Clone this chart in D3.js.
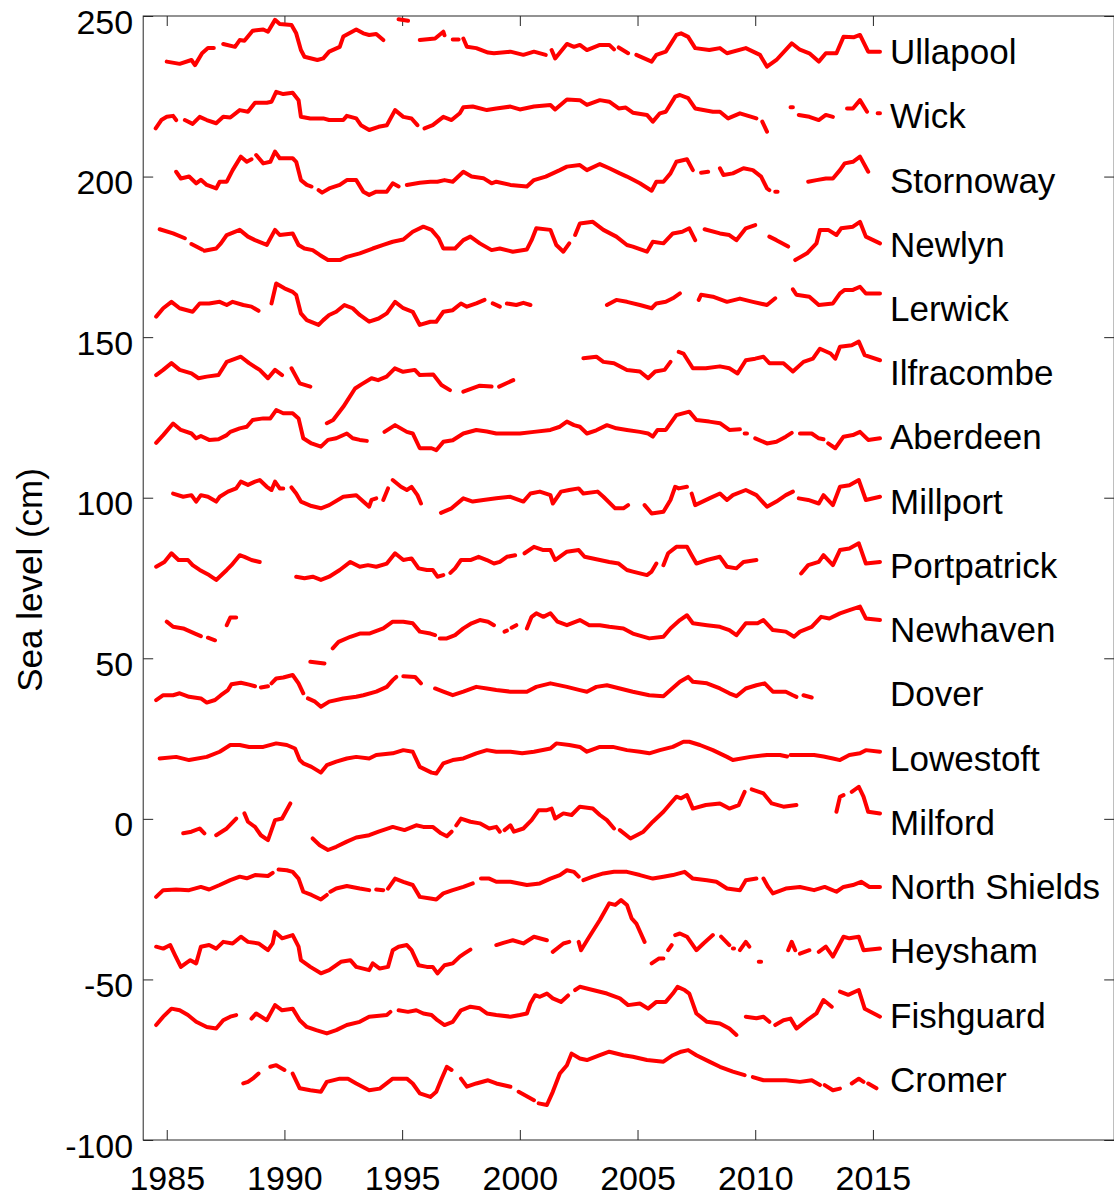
<!DOCTYPE html>
<html>
<head>
<meta charset="utf-8">
<script src="https://cdn.jsdelivr.net/npm/d3@7"></script>
<style>
  body { margin: 0; background: #fff; }
  svg text { font-family: "Liberation Sans", Arial, Helvetica, sans-serif; fill: #000; }
</style>
</head>
<body>
<div id="chart"></div>
<script>
// Station names, top to bottom, and the vertical offset each one is drawn at (cm)
const stations = ["Ullapool", "Wick", "Stornoway", "Newlyn", "Lerwick", "Ilfracombe", "Aberdeen",
  "Millport", "Portpatrick", "Newhaven", "Dover", "Lowestoft", "Milford", "North Shields",
  "Heysham", "Fishguard", "Cromer"];
const offsets = [240, 220, 200, 180, 160, 140, 120, 100, 80, 60, 40, 20, 0, -20, -40, -60, -80];

const xTicks = [1985, 1990, 1995, 2000, 2005, 2010, 2015];
const yTicks = [-100, -50, 0, 50, 100, 150, 200, 250];

// [year, anomaly in cm]; null marks a gap in the record
const ullapool = [[1985,-4.2],[1985.55,-4.9],[1986.05,-3.7],[1986.2,-5.3],[1986.5,-1.6],[1986.75,0],[1987,0],null,[1987.4,1.3],[1987.9,0.4],[1988.1,2.5],[1988.3,2.3],[1988.65,5.4],[1989.1,5.8],[1989.3,5.1],[1989.6,8.8],[1989.8,7.5],[1990.3,7.2],[1990.5,4.6],[1990.7,-0.6],[1990.85,-2.7],[1991.4,-3.7],[1991.65,-3.2],[1991.9,-1.1],[1992.35,0.4],[1992.5,3.6],[1993.05,5.8],[1993.35,4.6],[1993.6,4.1],[1993.9,4.4],[1994.2,2.5],null,[1994.85,9],[1995.25,8.5],null,[1995.75,2.5],[1996.4,3],[1996.75,5.1],[1996.8,4],null,[1997.15,2.7],[1997.4,2.7],null,[1997.6,3],[1997.75,0.4],[1998.15,0],[1998.65,-1.4],[1998.9,-1.6],[1999.6,-1.1],[2000.15,-2.1],[2000.6,-1.1],[2001.1,-2.1],null,[2001.35,-0.6],[2001.5,-3.2],[2002,1.3],[2002.3,0.4],[2002.55,1],[2002.85,-0.6],[2003.4,1],[2003.8,1],[2004,-0.4],null,[2004.2,0.2],[2004.6,-1.6],null,[2004.95,-2.1],[2005.6,-4.2],[2005.8,-2.1],[2006.2,-1.1],[2006.65,4.1],[2006.85,4.6],[2007.15,3.5],[2007.45,0],[2008.05,-0.6],[2008.5,0],[2008.8,-1.6],[2009.6,0],[2010.2,-2.1],[2010.5,-5.8],[2010.9,-3.7],[2011.55,1.5],[2011.9,-0.5],[2012.3,-1.6],[2012.7,-4.2],[2013,-1.6],[2013.45,-1.6],[2013.75,3.5],[2014.2,3.4],[2014.45,4.1],[2014.8,-1.1],[2015.3,-1.1]];

const wick = [[1984.53,-5],[1984.77,-2.4],[1985,-1.4],[1985.27,-1.1],[1985.4,-2.4],null,[1985.77,-2.4],[1986.1,-3.6],[1986.4,-1.4],[1986.7,-2.4],[1987.1,-3.4],[1987.4,-1.4],[1987.7,-1.6],[1988.1,0.7],[1988.45,0.2],[1988.75,3],[1989.25,3],[1989.45,3.3],[1989.65,6.4],[1989.95,5.7],[1990.35,6.1],[1990.6,3.8],[1990.7,-1.4],[1991.1,-1.9],[1991.65,-1.9],[1991.9,-2.4],[1992.5,-2.4],[1992.65,-1.1],[1993.05,-1.9],[1993.25,-4],[1993.6,-5.5],[1994,-4.5],[1994.35,-4],[1994.7,0.7],[1995.05,-1.4],[1995.4,-1.9],[1995.65,-4],null,[1995.95,-5],[1996.3,-4],[1996.75,-1.4],[1997.1,-2.4],[1997.45,-0.3],[1997.6,1.6],[1998,1.8],[1998.6,0.7],[1999,1.2],[1999.6,1.8],[2000,0.9],[2000.6,1.8],[2001.3,2.3],[2001.5,0.9],[2002,4],[2002.55,3.8],[2002.85,2.3],[2003.4,3.8],[2003.8,3.3],[2004.2,1.2],[2004.5,1.5],[2004.8,-0.1],[2005.4,-0.8],[2005.65,-2.9],[2005.95,-0.3],[2006.2,0.2],[2006.6,4.9],[2006.8,5.4],[2007.15,4.4],[2007.45,1.2],[2008.2,0.2],[2008.5,0.2],[2008.85,-1.9],[2009.35,-0.3],[2010.05,-1.9],null,[2010.3,-2.9],[2010.5,-6],null,[2011.5,1.6],[2011.6,1.6],null,[2011.85,-0.8],[2012.3,-1.4],[2012.7,-2.4],[2013,-0.8],[2013.3,-1.4],null,[2013.9,1.2],[2014.15,1.2],[2014.45,3.8],[2014.75,0.2],null,[2015.2,-0.3],[2015.3,-0.3]];

const stornoway = [[1985.4,1.5],[1985.6,-0.6],[1985.95,0],[1986.25,-2.1],[1986.45,-1],[1986.7,-2.6],[1987.1,-3.7],[1987.25,-1.6],[1987.55,-1.6],[1987.8,2],[1988.15,6.2],[1988.4,4.6],[1988.6,5.4],null,[1988.8,6.7],[1989.1,4.1],[1989.4,4.6],[1989.6,7.8],[1989.8,5.7],[1990.35,5.7],[1990.5,4.6],[1990.7,-1.1],[1990.95,-2.6],[1991.15,-3.1],null,[1991.45,-4.2],[1991.6,-5],[1991.9,-3.7],[1992.35,-2.6],[1992.65,-1.1],[1993.05,-1.1],[1993.35,-4.7],[1993.6,-5.7],[1993.9,-4.7],[1994.35,-4.7],[1994.6,-2.1],[1994.85,-3.1],null,[1995.2,-2.6],[1995.75,-1.9],[1996.2,-1.6],[1996.5,-1.6],[1996.8,-1.1],[1997.15,-1.6],[1997.6,1.5],[1997.95,0],[1998.45,-0.5],[1998.8,-2.1],[1999,-1.6],[1999.6,-2.6],[2000.3,-3.1],[2000.6,-1.1],[2001.1,0],[2001.4,1],[2001.7,2],[2002,3.1],[2002.55,3.6],[2002.85,2],[2003.4,3.9],[2003.8,2.6],[2004.25,1],[2004.55,0],[2005.1,-2.1],[2005.6,-4.4],[2005.8,-1.6],[2006.1,-1.6],[2006.4,1],[2006.65,4.6],[2007.1,5.4],[2007.35,2],null,[2007.7,1.2],[2008,1.5],null,[2008.5,2.6],[2008.65,0.5],[2009.05,1],[2009.5,2.6],[2009.9,2],[2010.25,0],[2010.5,-3.7],[2010.6,-4.2],null,[2010.85,-4.7],[2010.95,-4.7],null,[2012.25,-1.6],[2012.6,-1.1],[2013,-0.6],[2013.3,-0.6],[2013.6,2],[2013.8,4.1],[2014.15,4.6],[2014.45,6.2],[2014.8,1.5]];

const newlyn = [[1984.7,3.6],[1985.27,2.3],[1985.77,0.8],null,[1986.05,-1],[1986.5,-2.7],null,[1986.6,-3.1],[1987.1,-2.4],[1987.3,-0.8],[1987.55,1.8],[1988.1,3.4],[1988.45,1.3],[1988.75,0.2],[1989.25,-1.3],[1989.6,3.4],[1989.8,1.8],[1990.35,2.3],[1990.6,-1.3],[1990.85,-2.4],[1991.2,-2.9],[1991.5,-4.4],[1991.85,-6],[1992.35,-6],[1992.65,-5],[1993.2,-3.9],[1993.75,-2.4],[1994.2,-1.3],[1994.6,-0.3],[1995.05,0.4],[1995.45,2.8],[1995.9,4.4],[1996.25,3.4],[1996.55,0.8],[1996.75,-2.4],[1997.25,-2.4],[1997.6,0.2],[1997.9,1.3],[1998.3,-0.8],[1998.8,-2.9],[1999.15,-2.4],[1999.7,-3.4],[2000.3,-2.7],[2000.5,0.2],[2000.7,3.9],[2001.3,3.4],[2001.55,-1.3],[2001.85,-3.4],[2002.1,-0.8],null,[2002.35,1.8],[2002.55,5.4],[2003.1,5.9],[2003.55,3.4],[2004.1,1.3],[2004.55,-1.3],[2004.8,-1.8],[2005.4,-3.4],[2005.65,-0.3],[2006.1,-0.8],[2006.5,2.3],[2006.9,2.8],[2007.2,3.9],[2007.45,0.2],null,[2007.85,3.6],[2008.5,2.3],[2008.9,1.8],[2009.2,0.2],[2009.6,3.9],[2010,4.9],null,[2010.6,1.3],[2010.9,0.2],[2011.4,-1.8],null,[2011.7,-6],[2012.2,-3.9],[2012.6,-0.8],[2012.75,3.4],[2013.1,3.4],[2013.45,1.8],[2013.65,3.9],[2014.15,4.4],[2014.45,5.9],[2014.7,1.3],[2015.3,-0.8]];

const lerwick = [[1984.55,-3.6],[1984.85,-1],[1985.2,1],[1985.55,-1],[1986.1,-2.1],[1986.4,0.5],[1986.8,0.5],[1987.25,1],[1987.55,0],[1987.8,1],[1988.25,0],[1988.6,-0.5],[1988.9,-1.8],null,[1989.45,0.5],[1989.65,6.7],[1990,5.2],[1990.35,4.1],[1990.5,3.1],[1990.7,-2.6],[1990.95,-4.7],[1991.45,-6.2],[1991.65,-4.7],[1991.9,-3.1],[1992.2,-2.1],[1992.55,0],[1992.9,-1],[1993.2,-3.1],[1993.6,-5.2],[1994,-4.2],[1994.35,-2.6],[1994.7,1],[1995.05,-1],[1995.45,-2.1],[1995.75,-6.2],[1996.2,-5.2],[1996.45,-5.2],[1996.75,-2.1],[1997.15,-1.6],[1997.5,0.5],[1997.75,-0.5],[1998.15,0.5],[1998.5,1.6],null,[1998.85,0.5],[1999.15,-0.5],null,[1999.45,0.5],[1999.85,0],[2000.15,0.7],[2000.45,0],null,[2003.7,0],[2004.1,1.6],[2004.55,1],[2005.1,0],[2005.6,-1],[2005.8,0.5],[2006.2,1],[2006.5,2.1],[2006.8,3.6],null,[2007.6,1.6],[2007.7,3.2],[2008.2,2.6],[2008.8,1],[2009.35,2],[2009.9,1],[2010.5,0],[2010.85,2.1],null,[2011.6,4.9],[2011.75,3.2],[2012.3,2.6],[2012.7,0],[2013.3,0.5],[2013.6,3.6],[2013.8,4.7],[2014.15,4.7],[2014.45,5.7],[2014.7,3.6],[2015.3,3.6]];

const ilfracombe = [[1984.55,-1.8],[1984.85,-0.2],[1985.2,1.9],[1985.55,-0.2],[1986.05,-1.3],[1986.35,-2.8],[1986.7,-2.3],[1987.2,-1.8],[1987.55,2.3],[1988.15,3.9],[1988.5,1.9],[1988.95,-0.2],[1989.3,-2.8],[1989.6,-0.2],[1989.9,-1.8],null,[1990.3,0.3],[1990.65,-4.4],[1991.1,-5.4],null,[1991.8,-16.8],[1992.07,-15.8],[1992.5,-11.7],[1993,-6],[1993.27,-4.7],[1993.7,-2.8],[1993.98,-3.4],[1994.34,-2.3],[1994.69,0.3],[1995.04,-0.8],[1995.54,-0.2],[1995.75,-1.8],[1996.32,-1.6],[1996.67,-4.9],[1997.03,-6.5],null,[1997.6,-7],[1998.3,-5.1],[1998.8,-5.4],null,[1999.12,-5.4],[1999.72,-3.4],null,[2002.7,3.4],[2003.25,3.9],[2003.55,2.3],[2004,1.9],[2004.55,-0.2],[2005.1,-0.7],[2005.45,-2.8],[2005.75,-0.7],[2006.15,-0.2],[2006.4,2.3],null,[2006.75,5.4],[2006.95,4.9],[2007.35,0.3],[2007.9,0.3],[2008.5,0.9],[2008.9,0.3],[2009.25,-1.3],[2009.6,2.8],[2010,3.3],[2010.35,3.9],[2010.6,1.9],[2011.2,1.9],[2011.6,-0.7],[2012.05,2.3],[2012.45,3.3],[2012.75,6.4],[2013.2,4.9],[2013.4,3.3],[2013.6,7],[2014.1,7.5],[2014.4,8.6],[2014.65,4.4],[2015.3,2.8]];

const aberdeen = [[1984.55,-2.9],[1984.85,-0.5],[1985.27,3.1],[1985.6,1.1],[1986.05,0],[1986.25,-1.5],[1986.45,-0.8],[1986.8,-2],[1987.2,-1.8],[1987.55,-0.5],[1987.7,0.5],[1988.1,1.6],[1988.4,2.1],[1988.65,4.2],[1989.1,4.7],[1989.4,4.7],[1989.65,7.3],[1989.95,6.3],[1990.35,6.3],[1990.6,4.7],[1990.8,-1.5],[1991.15,-3.1],[1991.55,-4.1],[1991.85,-2],[1992.2,-1.5],[1992.65,0],[1992.9,-1.5],[1993.2,-2],[1993.5,-2.3],null,[1994.25,0.5],[1994.7,2.6],[1995.2,0.5],[1995.45,0],[1995.75,-4.6],[1996.25,-4.6],[1996.45,-5.2],[1996.75,-2.6],[1997.15,-2.1],[1997.6,0],[1998.15,1.1],[1998.6,0.6],[1999,0],[1999.6,0],[2000,0],[2000.6,0.5],[2001.3,1.1],[2001.7,2.1],[2002,3.7],[2002.3,2.6],[2002.55,2.1],[2002.85,0],[2003.25,1],[2003.7,2.6],[2004.1,1.6],[2004.55,1.1],[2005.1,0.5],[2005.45,0],[2005.65,-1],[2005.85,1.1],[2006.2,1.1],[2006.65,5.7],[2007.2,6.8],[2007.5,4.2],[2008.05,3.7],[2008.5,3.2],[2008.9,1.1],[2009.35,1.3],null,[2009.55,0],[2009.65,0],null,[2010,-1.5],[2010.5,-3.1],[2010.9,-2.6],[2011.3,-1],[2011.55,0.2],null,[2011.9,0],[2012.4,0],[2012.7,-1.5],[2012.9,-1.8],null,[2013.1,-3.1],[2013.4,-4.6],[2013.75,-1],[2014.15,-0.5],[2014.45,0.5],[2014.8,-2],[2015.3,-1.5]];

const millport = [[1985.27,1.3],[1985.7,0.3],[1986.05,0.8],[1986.25,-1.2],[1986.45,0.8],[1986.75,0.3],[1987.1,-1.2],[1987.25,0.3],[1987.6,1.9],[1987.95,2.9],[1988.15,5],[1988.45,4],[1988.75,5],[1988.95,5.5],[1989.25,3.4],[1989.45,2.4],[1989.6,5],[1989.8,2.9],[1989.95,2.9],null,[1990.3,3.2],[1990.5,1.3],[1990.7,-1.2],[1991.15,-2.6],[1991.55,-3.3],[1991.9,-2.3],[1992.5,0.3],[1993.05,0.8],[1993.35,-1.2],[1993.6,-2.8],[1993.7,-0.7],[1993.9,-0.2],null,[1994.2,-0.7],[1994.4,2.9],null,[1994.6,5.5],[1994.95,3.4],[1995.2,2.4],[1995.4,3.4],[1995.65,0.8],[1995.8,-1.8],null,[1996.65,-4.7],[1997.1,-3.3],[1997.6,-0.2],[1998,-1.2],[1998.45,-0.7],[1999,-0.2],[1999.6,0.3],[2000.15,-1.2],[2000.45,1.3],[2000.85,1.9],[2001.3,0.8],[2001.4,-1.8],[2001.75,1.9],[2002.1,2.4],[2002.5,2.9],[2002.7,1.3],[2003.3,1.9],[2003.55,0.3],[2004.05,-3.3],[2004.4,-3.3],[2004.6,-2.3],null,[2005.3,-2.3],[2005.6,-4.9],[2006.1,-4.4],[2006.4,-0.7],[2006.6,3.4],[2006.75,2.9],[2007.1,3.4],null,[2007.3,1.3],[2007.45,-2.3],[2008.05,-0.2],[2008.5,1.3],[2008.8,-0.7],[2009.05,0.8],[2009.6,2.4],[2010.05,0.8],[2010.5,-2.8],[2010.9,-1.2],[2011.3,0.8],[2011.6,1.9],null,[2011.85,-0.2],[2012.25,-0.7],[2012.7,-1.8],[2012.9,0.8],[2013.3,-2.3],[2013.6,3.4],[2014,3.9],[2014.4,5.5],[2014.7,-0.7],[2015.3,0.3]];

const portpatrick = [[1984.55,-1.5],[1984.9,0],[1985.2,2.7],[1985.5,0.6],[1985.9,0.6],[1986.1,-1],[1986.4,-2.5],[1986.8,-4.1],[1987.1,-5.6],[1987.55,-2.5],[1987.75,-1],[1988.1,2.1],[1988.3,1.6],[1988.6,0.6],[1988.95,0],null,[1990.5,-4.6],[1990.85,-5.1],[1991.2,-4.6],[1991.55,-5.6],[1991.9,-4.6],[1992.35,-2.5],[1992.8,0],[1993.2,-1.5],[1993.55,-1],[1993.9,-1.5],[1994.35,-0.5],[1994.7,2.7],[1995.05,0.6],[1995.4,1.1],[1995.7,-2],[1996.05,-2.5],[1996.3,-2.5],[1996.5,-4.6],[1996.75,-4.1],null,[1997.05,-3.4],[1997.25,-2],[1997.5,0.6],[1997.9,0.6],[1998.25,1.6],[1998.6,0.6],[1998.9,-0.5],[1999.15,0],[1999.45,1.6],[1999.8,2.1],null,[2000.2,2.7],[2000.6,4.7],[2001,3.7],[2001.3,3.7],[2001.5,0.6],[2002,3.2],[2002.5,3.7],[2002.75,1.6],[2003.4,0.6],[2003.8,0],[2004.2,-0.5],[2004.55,-2.5],[2004.8,-3],[2005.4,-4.1],[2005.6,-3],[2005.8,-0.5],null,[2006.1,-1],[2006.3,2.7],[2006.65,4.7],[2007.1,4.7],[2007.3,2.1],[2007.5,-0.5],[2007.95,0.6],[2008.5,1.6],[2008.8,-1.5],[2009.2,-2],[2009.5,0],[2010.05,0.6],null,[2011.95,-3.6],[2012.25,-1],[2012.7,0],[2012.9,2.1],[2013.3,-1],[2013.6,3.7],[2014,4.2],[2014.4,5.8],[2014.7,-0.5],[2015.3,0]];

const newhaven = [[1985,1.4],[1985.27,-0.2],[1985.7,-0.7],[1986.2,-2.3],[1986.45,-3.1],null,[1986.75,-3.6],[1987.05,-4.4],null,[1987.55,0.3],[1987.7,2.7],[1987.95,2.7],null,[1991.1,-11.1],[1991.7,-11.6],null,[1992.05,-6.9],[1992.3,-4.9],[1992.8,-3.3],[1993.2,-2.3],[1993.6,-2.3],[1994.2,-0.7],[1994.6,1.4],[1995.05,1.4],[1995.45,0.9],[1995.75,-1.7],[1996.2,-2.3],[1996.4,-2.8],null,[1996.6,-3.8],[1996.9,-3.8],[1997.25,-2.8],[1997.6,-0.7],[1997.95,0.9],[1998.3,1.9],[1998.65,1.4],[1998.9,0.3],null,[1999.35,-1.7],[1999.45,-1.4],null,[1999.65,-0.5],[1999.85,0.3],null,[2000.3,-0.7],[2000.5,2.9],[2000.7,4],[2001,2.9],[2001.3,4],[2001.6,1.4],[2002,0.3],[2002.55,1.9],[2002.95,0.3],[2003.4,0.3],[2003.8,-0.2],[2004.4,-0.7],[2004.8,-2.3],[2005.5,-3.8],[2006.1,-3.3],[2006.4,-0.7],[2006.8,1.9],[2007.1,3.4],[2007.35,0.9],[2007.95,0.3],[2008.5,-0.2],[2008.9,-1.2],[2009.2,-2.8],[2009.6,0.9],[2010.1,0.9],[2010.35,1.9],[2010.75,-1.2],[2011.3,-1.7],[2011.65,-3.3],[2011.9,-1.7],[2012.4,-0.2],[2012.8,2.9],[2013.15,2.4],[2013.6,4],[2014,5],[2014.45,6.1],[2014.7,2.4],[2015.3,1.9]];

const dover = [[1984.55,-3],[1984.85,-1.5],[1985.27,-1.5],[1985.55,-0.9],[1985.95,-2],[1986.45,-2.5],[1986.7,-3.8],[1987.05,-3],[1987.3,-1.5],[1987.6,0.1],[1987.75,1.9],[1988.15,2.4],[1988.5,1.8],[1988.75,1.3],null,[1989,0.9],[1989.3,1.3],null,[1989.45,2.2],[1989.65,3.7],[1989.95,4],[1990.35,4.8],[1990.6,2.2],[1990.8,-0.9],null,[1991,-2.5],[1991.3,-3.5],[1991.55,-5.1],[1991.9,-3.5],[1992.5,-2.5],[1993.05,-2],[1993.35,-1.5],[1993.9,-0.4],[1994.35,1.1],[1994.6,3.2],[1994.75,4.2],null,[1995.05,4.4],[1995.55,4.2],[1995.8,2.2],null,[1996.4,0.6],[1996.75,-0.4],[1997.15,-1.5],[1997.6,-0.4],[1998.15,1.1],[1998.6,0.6],[1999,0.1],[1999.6,-0.4],[2000.3,-0.4],[2000.7,1.1],[2001.3,2.2],[2002,1.1],[2002.55,0.1],[2002.85,-0.4],[2003.25,1.1],[2003.7,1.6],[2004.25,0.6],[2004.8,-0.4],[2005.5,-1.5],[2006.1,-1.8],[2006.4,0.1],[2006.8,2.7],[2007.15,4.2],[2007.35,2.7],[2007.95,2.2],[2008.5,0.6],[2008.9,-0.9],[2009.2,-1.8],[2009.6,0.6],[2010.05,1.6],[2010.4,2.2],[2010.75,-0.4],[2011.3,-0.4],[2011.6,-1.5],[2011.75,-2],null,[2012.05,-1.5],[2012.4,-2.2]];

const lowestoft = [[1984.7,-1.2],[1985.4,-0.7],[1985.95,-1.7],[1986.7,-0.7],[1987.25,0.9],[1987.7,3],[1988.1,3],[1988.5,2.4],[1989.1,2.4],[1989.65,3.5],[1990.1,3],[1990.45,1.9],[1990.65,-1.7],[1990.8,-2.7],[1991.15,-3.8],[1991.55,-5.6],[1991.8,-3.3],[1992.2,-2.2],[1992.65,-1.2],[1993.05,-0.7],[1993.6,-1.2],[1993.9,-0.1],[1994.6,0.4],[1995.05,1.4],[1995.45,0.9],[1995.75,-3.8],[1996.25,-5.6],[1996.45,-5.9],[1996.75,-2.7],[1997.15,-1.7],[1997.6,-1.2],[1998.15,0.4],[1998.6,1.4],[1999,0.9],[1999.6,0.9],[2000.1,0.4],[2000.6,0.9],[2001.3,1.9],[2001.55,3.5],[2002.1,3],[2002.55,2.4],[2002.85,0.9],[2003.4,2.4],[2003.95,2.4],[2004.55,1.4],[2005.1,0.9],[2005.5,0.4],[2005.95,1.4],[2006.5,2.4],[2006.95,4],[2007.2,4],[2007.65,3],[2008.2,1.4],[2008.8,-0.7],[2009.05,-1.7],[2009.8,-0.7],[2010.5,-0.1],[2011.05,-0.1],[2011.35,-0.6],null,[2011.5,-0.1],[2011.9,-0.1],[2012.5,-0.1],[2012.9,-0.6],[2013.3,-1.2],[2013.6,-1.7],[2014,-0.1],[2014.45,0.4],[2014.7,1.4],[2015.3,0.9]];

const milford = [[1985.7,-4.5],[1986.05,-4],[1986.4,-3],[1986.6,-4.5],null,[1987.1,-5.1],[1987.55,-3],[1987.95,0.1],null,[1988.3,1.7],[1988.45,-0.9],[1988.75,-2.5],[1989,-5.1],[1989.3,-6.6],[1989.6,-0.4],[1989.9,0.1],[1990.25,4.8],null,[1991.2,-6.1],[1991.5,-8.2],[1991.85,-9.7],[1992.2,-8.7],[1992.65,-7.1],[1993.05,-5.8],[1993.6,-5.1],[1994,-4],[1994.6,-2.5],[1995.1,-3.5],[1995.6,-2],[1995.9,-2.5],[1996.3,-2.5],[1996.65,-4.5],[1996.9,-5.4],[1997.1,-4],null,[1997.3,-2],[1997.5,0.1],[1997.9,-0.9],[1998.3,-1.4],[1998.7,-3],[1999,-2.5],[1999.15,-4],null,[1999.35,-3.5],[1999.6,-2],[1999.75,-4],[2000.15,-3],[2000.5,-0.4],[2000.8,2.7],[2001.15,2.7],[2001.35,3.2],[2001.5,0.1],[2001.85,1.7],[2002.2,1.2],[2002.55,3.8],[2003.1,3.2],[2003.4,1.2],[2003.7,-0.4],[2004,-3],null,[2004.25,-3.5],[2004.7,-6.1],[2005.25,-4],[2005.65,-0.9],[2006.1,2.2],[2006.4,4.8],[2006.65,6.9],[2006.85,6.4],[2007.1,7.4],[2007.35,3.2],[2007.9,4.3],[2008.5,4.8],[2008.9,3.2],[2009.3,4.3],[2009.55,8.4],null,[2009.85,9.2],[2010.35,7.9],[2010.7,4.8],[2011.2,3.8],[2011.75,4.3],null,[2013.45,2.2],[2013.6,6.9],[2013.75,7.4],null,[2014.1,8.4],[2014.4,10],[2014.6,6.9],[2014.8,2.2],[2015.3,1.7]];

const northShields = [[1984.55,-4.3],[1984.85,-2.2],[1985.4,-2],[1985.95,-2.2],[1986.45,-1.2],[1986.8,-2],[1987.25,-0.6],[1987.7,0.9],[1988.1,2],[1988.4,1.5],[1988.75,2.5],[1989.3,2.2],[1989.5,3.2],null,[1989.75,4.2],[1990.1,4],[1990.35,3.5],[1990.6,1.4],[1990.8,-2.7],[1991.15,-3.7],[1991.55,-5.1],[1991.8,-3.7],null,[1991.95,-2.7],[1992.2,-1.7],[1992.65,-0.9],[1993.2,-1.7],[1993.6,-2.2],null,[1993.9,-2],[1994.2,-2.2],null,[1994.4,-1.7],[1994.7,1.4],[1995.05,0.4],[1995.45,-0.6],[1995.75,-4.3],[1996.2,-4.8],[1996.45,-5.1],[1996.75,-3.2],[1997.15,-2.2],[1997.6,-1.2],[1998,-0.1],null,[1998.35,1.4],[1998.7,1.4],[1999,0.4],[1999.6,0.4],[2000.3,-0.6],[2000.85,-0.1],[2001.3,1.4],[2001.7,2.5],[2002,4],[2002.3,3.5],[2002.5,2],null,[2002.7,0.9],[2003.1,2],[2003.55,3],[2004,3.5],[2004.55,3.5],[2005.1,2.5],[2005.65,1.4],[2006.1,2],[2006.5,2.5],[2007,3.5],[2007.35,1.4],[2007.95,0.9],[2008.35,0.4],[2008.8,-1.7],[2009.35,-2.2],[2009.6,0.9],[2010.05,1.4],null,[2010.35,1.4],[2010.55,-1.2],[2010.75,-3.2],[2011.3,-1.7],[2011.9,-1.2],[2012.5,-2.2],[2012.95,-1.2],[2013.45,-2.7],[2013.75,-1.2],[2014.15,-0.6],[2014.5,0.4],[2014.85,-1.2],[2015.3,-1.2]];

const heysham = [[1984.55,0.2],[1984.85,-0.4],[1985.15,0.7],[1985.35,-2.4],[1985.6,-6.1],[1986,-4],[1986.25,-5],[1986.45,0.2],[1986.8,0.7],[1987.1,-0.4],[1987.4,1.7],[1987.8,1.2],[1988.15,3.3],[1988.45,1.7],[1988.9,1.2],[1989.3,-0.9],[1989.5,1.2],[1989.6,4.8],[1989.9,2.8],[1990.35,3.8],[1990.6,0.2],[1990.7,-4],[1991.1,-6.1],[1991.55,-8.1],[1991.9,-7.1],[1992.4,-4.5],[1992.8,-4],[1993.05,-6.1],[1993.6,-7.1],[1993.75,-5],[1994.05,-6.6],[1994.4,-6.1],[1994.6,-0.9],[1994.85,0.2],[1995.2,0.7],[1995.4,-0.9],[1995.7,-5.6],[1996.05,-6.1],[1996.3,-6.1],[1996.5,-8.1],[1996.8,-5.6],[1997.15,-5],[1997.45,-2.9],[1997.65,-1.9],[1997.9,-0.7],null,[1999,0.7],[1999.3,1.4],[1999.7,2.2],[2000.15,1.2],[2000.6,3.3],[2001.15,2.2],null,[2001.4,-1.4],[2001.85,1.2],[2002.1,1.7],null,[2002.5,1.7],[2002.6,-0.9],[2002.95,3.3],[2003.4,8.5],[2003.8,13.7],[2004.05,13.2],[2004.3,14.7],[2004.55,13.2],[2004.75,9],[2004.95,7.4],[2005.3,1.7],null,[2005.6,-5],[2005.9,-3.5],[2006.1,-3.5],null,[2006.3,-0.9],[2006.45,0.7],null,[2006.6,3.8],[2006.8,4.3],[2007.1,3.3],[2007.5,-0.9],[2007.8,1.2],[2008.2,3.8],null,[2008.55,3.3],[2008.9,0.7],null,[2009.05,-0.4],[2009.1,-0.4],null,[2009.35,-0.9],[2009.6,1.7],[2009.75,0.2],null,[2010.15,-4.5],[2010.25,-4.5],null,[2011.4,-0.9],[2011.55,1.7],[2011.7,-0.9],null,[2011.9,-2],[2012.3,-0.9],null,[2012.7,-1.4],[2013,0.2],[2013.3,-2.9],[2013.75,3.3],[2014,2.8],[2014.4,3.3],[2014.6,-0.9],[2015.3,-0.4]];

const fishguard = [[1984.55,-4.2],[1984.85,-1.6],[1985.2,0.9],[1985.55,0.4],[1985.9,-1.1],[1986.25,-3.2],[1986.7,-4.8],[1987.1,-5.3],[1987.4,-2.7],[1987.7,-1.6],[1987.95,-1.1],null,[1988.6,-2.2],[1988.8,-0.6],[1989.25,-2.7],[1989.6,2],[1989.9,0.4],[1990.35,0.9],[1990.65,-2.7],[1990.95,-4.8],[1991.35,-5.8],[1991.8,-6.8],[1992.2,-5.8],[1992.65,-4.2],[1993.2,-3.2],[1993.6,-1.6],[1994.35,-1.1],[1994.5,-0.1],null,[1994.85,0.4],[1995.25,-0.1],[1995.6,0.4],[1995.9,-0.6],[1996.25,-1.1],[1996.5,-2.7],[1996.8,-4.2],[1997.15,-3.2],[1997.5,0.4],[1997.9,1.5],[1998.3,1],[1998.6,-0.6],[1999,-1.1],[1999.6,-1.6],[2000,-1.1],[2000.3,-0.6],[2000.45,2.5],[2000.65,5.1],[2000.85,4.6],[2001.15,5.6],[2001.4,4.1],[2001.75,3],[2002.05,5],null,[2002.35,6.7],[2002.55,7.7],[2003.1,6.7],[2003.7,5.6],[2004.25,4.1],[2004.6,2],[2005.1,2.5],[2005.45,0.9],[2005.8,3],[2006.2,3],[2006.5,5.6],[2006.7,7.7],[2007,6.7],[2007.2,5.6],[2007.5,-0.6],[2007.95,-3.2],[2008.5,-3.7],[2008.9,-5.3],[2009.2,-7.3],null,[2009.6,-1.6],[2010.05,-2.1],[2010.35,-1.6],[2010.6,-3.2],null,[2010.85,-4.2],[2011.2,-2.7],[2011.5,-2.2],[2011.75,-5.3],[2012.2,-2.7],[2012.6,-0.6],[2012.9,3.6],[2013.25,1.5],null,[2013.6,6.2],[2013.95,5.2],[2014.4,6.7],[2014.65,0.9],[2015.3,-1.6]];

const cromer = [[1988.25,-2.4],[1988.45,-1.9],[1988.65,-0.9],[1988.9,0.7],null,[1989.4,2.8],[1989.65,3.3],[1990,1.8],null,[1990.35,0.7],[1990.65,-3.9],[1991.1,-4.5],[1991.55,-5],[1991.8,-1.9],[1992.35,-0.9],[1992.7,-0.9],[1993.05,-2.4],[1993.6,-4.5],[1994.05,-4],[1994.6,-0.9],[1995.2,-0.9],[1995.45,-2.4],[1995.75,-5.5],[1996.2,-6.6],[1996.45,-5],[1996.65,-1.4],[1996.9,2.8],[1997.1,1.8],null,[1997.5,-0.9],[1997.75,-3.4],[1998.15,-2.4],[1998.65,-1.4],[1999,-2.4],[1999.6,-3.4],null,[1999.95,-5],[2000.2,-6],[2000.6,-7.6],null,[2000.8,-8.6],[2001.15,-9.1],[2001.4,-5],[2001.7,0.7],[2002,3.3],[2002.2,6.9],[2002.55,5.4],[2002.85,4.9],[2003.4,6.4],[2003.8,7.5],[2004.4,6.4],[2004.8,5.9],[2005.4,4.9],[2006.1,4.4],[2006.5,6.4],[2006.85,7.5],[2007.15,8],[2007.5,6.4],[2008.05,4.4],[2008.5,2.8],[2009.05,1.3],[2009.55,0.2],null,[2009.9,-0.4],[2010.35,-1.4],[2010.75,-1.4],[2011.3,-1.4],[2011.9,-1.9],[2012.4,-1.4],[2012.75,-2.9],null,[2012.95,-2.9],[2013.3,-4.5],[2013.6,-4],null,[2014.1,-2.4],[2014.4,-0.9],[2014.6,-1.9],null,[2014.8,-2.4],[2015.15,-3.9]];

const seriesData = [ullapool, wick, stornoway, newlyn, lerwick, ilfracombe, aberdeen, millport,
  portpatrick, newhaven, dover, lowestoft, milford, northShields, heysham, fishguard, cromer];

const config = {
  width: 1114, height: 1196,
  left: 143.2, right: 1114.2, top: 16, bottom: 1140,
  labelX: 890, fontSize: 34
};

const svg = d3.select("#chart").append("svg")
  .attr("width", config.width)
  .attr("height", config.height);

const x = d3.scaleLinear().domain([1984, 2025.25]).range([config.left, config.right]);
const y = d3.scaleLinear().domain([-100, 250]).range([config.bottom, config.top]);

// Frame with inward ticks on all four sides (MATLAB style)
const axisColor = "#262626";
const styleAxis = g => {
  g.select(".domain").remove();
  g.selectAll(".tick line").attr("stroke", axisColor);
  g.selectAll(".tick text").attr("font-size", config.fontSize).attr("fill", "#000");
};

svg.append("g")
  .attr("transform", `translate(0,${config.bottom})`)
  .call(d3.axisBottom(x).tickValues(xTicks).tickFormat(d => String(d)).tickSize(-10).tickPadding(26))
  .call(styleAxis);

svg.append("g")
  .attr("transform", `translate(0,${config.top})`)
  .call(d3.axisTop(x).tickValues(xTicks).tickFormat("").tickSize(-10))
  .call(styleAxis);

// plain hyphen for negatives, as in the original
svg.append("g")
  .attr("transform", `translate(${config.left},0)`)
  .call(d3.axisLeft(y).tickValues(yTicks).tickFormat(d => String(d)).tickSize(-10).tickPadding(10))
  .call(styleAxis)
  .call(g => g.selectAll(".tick text").attr("dy", "0.5em"));

svg.append("g")
  .attr("transform", `translate(${config.right},0)`)
  .call(d3.axisRight(y).tickValues(yTicks).tickFormat("").tickSize(-10))
  .call(styleAxis);

svg.append("rect")
  .attr("x", config.left)
  .attr("y", config.top)
  .attr("width", config.right - config.left)
  .attr("height", config.bottom - config.top)
  .attr("fill", "none")
  .attr("stroke", axisColor)
  .attr("stroke-width", 1);

// One red line per station, shifted by its offset
const lines = svg.append("g");
seriesData.forEach((data, i) => {
  const line = d3.line()
    .defined(d => d !== null)
    .x(d => x(d[0]))
    .y(d => y(d[1] + offsets[i]));

  lines.append("path")
    .datum(data)
    .attr("fill", "none")
    .attr("stroke", "#ff0000")
    .attr("stroke-width", 4)
    .attr("stroke-linejoin", "round")
    .attr("stroke-linecap", "round")
    .attr("d", line);
});

svg.append("g").selectAll("text")
  .data(stations)
  .join("text")
  .attr("x", config.labelX)
  .attr("y", (d, i) => y(offsets[i]) + 16)
  .attr("font-size", 35)
  .text(d => d);

svg.append("text")
  .attr("transform", `translate(42,580) rotate(-90)`)
  .attr("text-anchor", "middle")
  .attr("font-size", 35)
  .text("Sea level (cm)");
</script>
</body>
</html>
